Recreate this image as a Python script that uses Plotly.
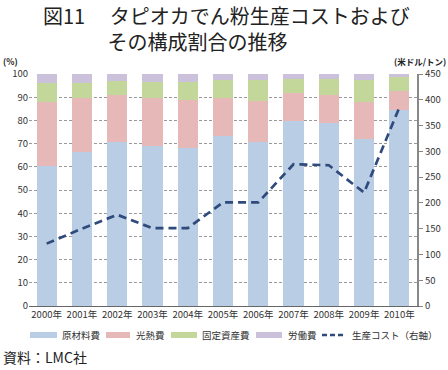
import plotly.graph_objects as go

years = ["2000年","2001年","2002年","2003年","2004年","2005年","2006年","2007年","2008年","2009年","2010年"]
raw = [60.5, 66.5, 70.7, 68.8, 68.0, 73.2, 70.5, 79.7, 78.9, 72.1, 84.3]
energy = [27.4, 23.3, 20.1, 21.0, 20.6, 16.6, 18.0, 12.0, 12.2, 16.0, 8.5]
fixed = [8.1, 6.5, 6.0, 6.8, 8.0, 7.5, 8.9, 6.3, 6.9, 9.5, 5.8]
labor = [4.0, 3.7, 3.2, 3.4, 3.4, 2.7, 2.6, 2.0, 2.0, 2.4, 1.4]
cost = [121, 150, 177, 151, 151, 201, 201, 275, 273, 220, 385]

FONT = "Noto Sans CJK JP"
W, H, L, R, T, B = 448, 370, 29, 31, 74, 64
PW, PH = W - L - R, H - T - B
def px(xp):
    return (xp - L) / PW
def py(yp):
    return (H - B - yp) / PH

fig = go.Figure()
series = [("原材料費", raw, "#B9CDE5"), ("光熱費", energy, "#E6B9B8"),
          ("固定資産費", fixed, "#C4D79B"), ("労働費", labor, "#CCC1DA")]
for name, vals, col in series:
    fig.add_trace(go.Bar(x=years, y=vals, name=name, marker=dict(color=col, line=dict(width=0)), yaxis="y"))
LINE_COL = "#2F4B7C"
fig.add_trace(go.Scatter(x=years, y=cost, name="生産コスト（右軸）", mode="lines",
                         line=dict(color=LINE_COL, width=2.7, dash="8px,5px"), yaxis="y2"))

fig.update_layout(
    width=W, height=H, barmode="stack", bargap=0.43,
    margin=dict(l=L, r=R, t=T, b=B, autoexpand=False),
    paper_bgcolor="white", plot_bgcolor="white",
    font=dict(family=FONT, size=10, color="#333"),
    xaxis=dict(showline=True, linecolor="#666", linewidth=1, ticks="", automargin=False,
               tickfont=dict(size=9.5, color="#333")),
    yaxis=dict(range=[0, 100], dtick=10, showgrid=True, gridcolor="#9A9A9A", griddash="3px,2px",
               gridwidth=1, showline=False, ticks="", automargin=False,
               tickfont=dict(size=9.5, color="#333"), zeroline=False),
    yaxis2=dict(range=[0, 450], dtick=50, overlaying="y", side="right", showgrid=False,
                showline=True, linecolor="#888", linewidth=2, ticks="outside", ticklen=4, tickcolor="#888",
                automargin=False, tickfont=dict(size=9.5, color="#333"), zeroline=False),
    showlegend=False,
)

def ann(text, xp, yp, size, xanchor="left", color="#222", bold=False, align="left"):
    fig.add_annotation(text=("<b>%s</b>" % text) if bold else text, x=px(xp), y=py(yp),
                       xref="paper", yref="paper", xanchor=xanchor, yanchor="middle", align=align,
                       showarrow=False, font=dict(family=FONT, size=size, color=color))

ann("図11\u3000 タピオカでん粉生産コストおよび<br>\u3000\u3000\u3000 その構成割合の推移", 41, 28, 20)
ann("(%)", 1, 61, 8.5, bold=True)
ann("(米ドル/トン)", 448, 61, 8.5, xanchor="right", bold=True)
ann("資料：LMC社", 1, 357, 14)

# custom legend
leg = [("原材料費", "#B9CDE5", 30, 57, 60), ("光熱費", "#E6B9B8", 106, 130, 134),
       ("固定資産費", "#C4D79B", 171, 197, 200), ("労働費", "#CCC1DA", 256, 282, 286)]
for name, col, x0, x1, tx in leg:
    fig.add_shape(type="rect", xref="paper", yref="paper", x0=px(x0), x1=px(x1), y0=py(338), y1=py(332),
                  fillcolor=col, line=dict(width=0))
    ann(name, tx, 335, 9.5, color="#333")
fig.add_shape(type="line", xref="paper", yref="paper", x0=px(322), x1=px(346), y0=py(335), y1=py(335),
              line=dict(color=LINE_COL, width=2.5, dash="5px,3px"))
ann("生産コスト（右軸）", 350, 335, 9.5, color="#333")

fig.write_html("out.html", config={"displayModeBar": False},
               post_script="document.body.style.margin='0px';")
